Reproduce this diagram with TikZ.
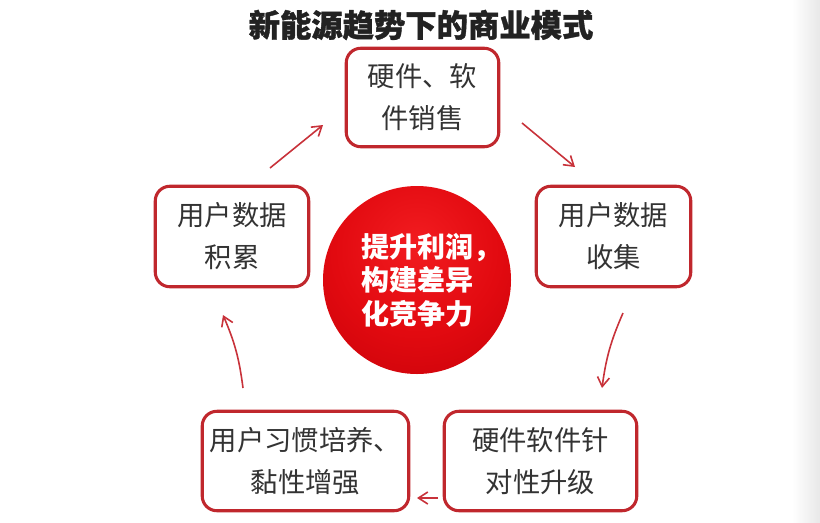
\documentclass[tikz,border=0pt]{standalone}
\usepackage{fontspec}
\usetikzlibrary{arrows.meta}
\newfontfamily\cjk{Noto Sans CJK SC}
\newfontfamily\cjkheavy[BoldFeatures={FakeBold=1.2}]{Noto Sans CJK SC}
\definecolor{boxred}{RGB}{192,39,45}
\definecolor{arrred}{RGB}{200,50,58}
\definecolor{txtgray}{RGB}{51,51,51}
\definecolor{titleblack}{RGB}{34,34,34}
\definecolor{corelight}{RGB}{242,28,32}
\definecolor{coremid}{RGB}{226,10,16}
\definecolor{coredark}{RGB}{196,0,8}
\definecolor{edgegray}{RGB}{232,232,232}
\pgfdeclareradialshading{coreshade}{\pgfpoint{0bp}{10bp}}{color(0bp)=(corelight); color(22bp)=(coremid); color(44bp)=(coredark); color(50bp)=(coredark); color(100bp)=(coredark)}

\begin{document}
\begin{tikzpicture}[x=0.75pt,y=0.75pt,yscale=-1,xscale=1,
  stage/.style={draw=boxred, line width=2.3pt, rounded corners=11pt, fill=white, text=txtgray, align=center, inner sep=0pt, font=\cjk\fontsize{20.5}{31.5}\selectfont},
  core/.style={circle, shading=coreshade, minimum size=141pt, inner sep=0pt, text=white, align=center, font=\cjk\bfseries\fontsize{21}{25}\selectfont},
  flow/.style={draw=arrred, line width=1.2pt, -{Straight Barb[length=7pt,width=9pt]}}]
\useasboundingbox (0,0) rectangle (820,522);
\fill [left color=white, right color=edgegray] (792,0) rectangle (820,522);
% title
\node [text=titleblack, font=\cjkheavy\bfseries\fontsize{23.5}{28}\selectfont] (title) at (421,25) {新能源趋势下的商业模式};
% stages
\node [stage, minimum width=114.4pt, minimum height=73.9pt] (sales) at (422.5,97.5) {硬件、软\\件销售};
\node [stage, minimum width=115.9pt, minimum height=75.4pt] (collect) at (613.5,236.5) {用户数据\\收集};
\node [stage, minimum width=144.4pt, minimum height=74.6pt] (upgrade) at (540.5,461) {硬件软件针\\对性升级};
\node [stage, minimum width=154.9pt, minimum height=74.6pt] (habit) at (305.5,461) {用户习惯培养、\\黏性增强};
\node [stage, minimum width=115.1pt, minimum height=75.4pt] (accum) at (232,236.5) {用户数据\\积累};
% centre
\node [core] (goal) at (417,280) {提升利润\rlap{，}\\构建差异\\化竞争力};
% cycle arrows
\coordinate (tl1) at (270,168); \coordinate (tl2) at (323,125);
\coordinate (tr1) at (522,123); \coordinate (tr2) at (575,167);
\coordinate (rt1) at (623,313); \coordinate (rt2) at (602,388);
\coordinate (bt1) at (438,498); \coordinate (bt2) at (417,498);
\coordinate (lt1) at (243,388); \coordinate (lt2) at (223,315);
\draw [flow] (tl1) -- (tl2);
\draw [flow] (tr1) -- (tr2);
\draw [flow] (rt1) to [bend left=8] (rt2);
\draw [flow] (bt1) -- (bt2);
\draw [flow] (lt1) to [bend left=8] (lt2);
\end{tikzpicture}
\end{document}
